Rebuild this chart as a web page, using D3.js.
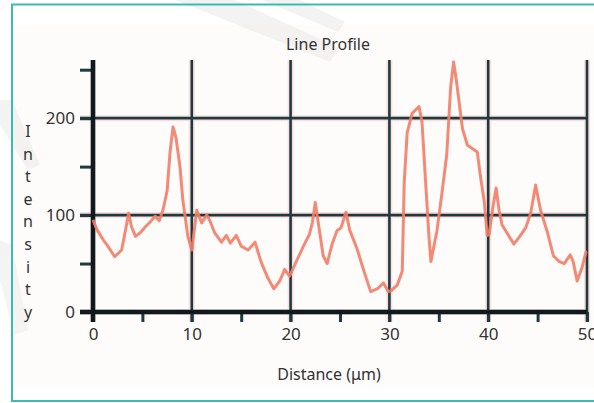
<!DOCTYPE html>
<html>
<head>
<meta charset="utf-8">
<script src="https://cdn.jsdelivr.net/npm/d3@7/dist/d3.min.js"></script>
<style>
  html, body { margin: 0; padding: 0; background: #ffffff; }
  svg { display: block; }
  text { font-family: "Noto Sans", "Open Sans", sans-serif; fill: #333; }
</style>
</head>
<body>
<svg id="chart" width="594" height="403"></svg>
<script>
// ---- data ----
const title = "Line Profile";
const xLabel = "Distance (μm)";
const yLabel = "Intensity";
const distance = [0, 0.4, 1.0, 1.5, 2.2, 2.9, 3.3, 3.6, 3.9, 4.3, 4.8, 5.3, 5.8, 6.3, 6.7, 7.1, 7.5, 7.8, 8.1, 8.4, 8.8, 9.1, 9.6, 10.0,
  10.2, 10.5, 11.0, 11.5, 11.8, 12.3, 13.0, 13.5, 13.9, 14.5, 15.0, 15.7, 16.4, 17.0, 17.7, 18.3, 18.9, 19.4, 19.9,
  20.4, 20.8, 21.4, 21.9, 22.2, 22.5, 22.8, 23.3, 23.7, 24.2, 24.7, 25.1, 25.6, 26.0, 26.7, 27.4, 28.1, 28.8, 29.4, 29.9,
  30.2, 30.8, 31.3, 31.5, 31.8, 32.3, 33.0, 33.3, 33.6, 34.0, 34.2, 34.8, 35.3, 35.8, 36.2, 36.5, 36.8, 37.4, 37.9, 38.5, 38.9, 39.2, 39.6, 39.9,
  40.1, 40.5, 40.8, 41.1, 41.4, 42.0, 42.6, 43.2, 43.8, 44.3, 44.8, 45.3, 46.0, 46.6, 47.2, 47.7, 48.3, 48.6, 49.0, 49.5, 49.9, 50.0];
const intensity = [95, 85, 75, 68, 57, 64, 85, 102, 88, 78, 82, 88, 93, 99, 94, 106, 125, 165, 191, 180, 150, 115, 78, 64,
  80, 105, 92, 100, 95, 82, 72, 79, 71, 79, 68, 64, 72, 52, 35, 24, 32, 44, 37,
  48, 57, 70, 80, 92, 113, 92, 58, 50, 70, 84, 87, 103, 84, 66, 43, 21, 24, 30, 21,
  22, 28, 42, 134, 185, 205, 212, 196, 145, 78, 52, 83, 121, 162, 232, 258, 237, 189, 172, 168, 165, 141, 114, 79,
  80, 110, 128, 105, 90, 80, 70, 78, 87, 102, 131, 105, 82, 58, 52, 50, 59, 52, 32, 46, 62, 62];
const xMajorTicks = [0, 10, 20, 30, 40, 50];
const xMinorTicks = [5, 15, 25, 35, 45];
const yMajorTicks = [0, 100, 200];
const yMinorTicks = [50, 150, 250];
const xDomain = [0, 50];
const yDomain = [0, 260];

// ---- drawing ----
const svg = d3.select("#chart");
const x = d3.scaleLinear().domain(xDomain).range([93, 587]);
const y = d3.scaleLinear().domain(yDomain).range([312, 60]);

const defs = svg.append("defs");
defs.append("filter").attr("id", "soft").append("feGaussianBlur").attr("stdDeviation", 0.45);

// panel
svg.append("rect").attr("x", 13).attr("y", 25).attr("width", 590).attr("height", 362).attr("fill", "#fefcfb");
// faint watermark bands
const wm = svg.append("g").attr("fill", "#ececec").attr("opacity", 0.6);
wm.append("path").attr("d", "M175,0 L235,0 L340,48 L330,62 Z");
wm.append("path").attr("d", "M262,0 L300,0 L345,22 L338,32 Z");
wm.append("path").attr("d", "M0,100 L12,100 L40,165 L28,170 L0,125 Z");
wm.append("path").attr("d", "M0,240 L12,245 L28,330 L14,335 L0,280 Z");
svg.append("rect").attr("x", 12).attr("y", 4.5).attr("width", 600).attr("height", 396.5)
  .attr("fill", "none").attr("stroke", "#3dbab2").attr("stroke-width", 2);

const gridColor = "#1d3a44";
const halo = "#f4a08c";

// orange halos (print misregistration)
const gh = svg.append("g").attr("stroke", halo).attr("stroke-width", 6).attr("opacity", 0.3);
xMajorTicks.forEach(t => gh.append("line").attr("x1", x(t)).attr("x2", x(t)).attr("y1", y(260)).attr("y2", 322));
yMajorTicks.forEach(t => gh.append("line").attr("x1", 80).attr("x2", x(50)).attr("y1", y(t)).attr("y2", y(t)));

// grid
const g = svg.append("g");
xMajorTicks.filter(t => t !== 0).forEach(t =>
  g.append("line").attr("x1", x(t)).attr("x2", x(t)).attr("y1", y(260)).attr("y2", 322)
    .attr("stroke", gridColor).attr("stroke-width", 2.6));
yMajorTicks.filter(t => t !== 0).forEach(t =>
  g.append("line").attr("x1", 80).attr("x2", x(50)).attr("y1", y(t)).attr("y2", y(t))
    .attr("stroke", gridColor).attr("stroke-width", 2.6));

// axes with d3 axis generators
const yAxis = d3.axisLeft(y).tickValues(yMajorTicks.concat(yMinorTicks)).tickSize(13).tickPadding(5)
  .tickFormat(d => yMajorTicks.includes(d) ? d : "");
const yG = svg.append("g").attr("transform", `translate(${x(0)},0)`).call(yAxis);
yG.select(".domain").remove();
yG.selectAll(".tick line").attr("stroke", gridColor).attr("stroke-width", 3);
yG.selectAll(".tick text").style("font-family", "'Noto Sans', sans-serif").style("font-size", "17px").attr("fill", "#333");

const xAxis = d3.axisBottom(x).tickValues(xMajorTicks.concat(xMinorTicks)).tickSize(10).tickPadding(6)
  .tickFormat(d => xMajorTicks.includes(d) ? d : "");
const xG = svg.append("g").attr("transform", `translate(0,${y(0)})`).call(xAxis);
xG.select(".domain").remove();
xG.selectAll(".tick line").attr("stroke", gridColor).attr("stroke-width", 3);
xG.selectAll(".tick text").style("font-family", "'Noto Sans', sans-serif").style("font-size", "17px").attr("fill", "#333");

// main axis lines
svg.append("line").attr("x1", x(0)).attr("x2", x(0)).attr("y1", y(260)).attr("y2", 322)
  .attr("stroke", "#0d1a1f").attr("stroke-width", 4.5);
svg.append("line").attr("x1", 80).attr("x2", x(50)).attr("y1", y(0)).attr("y2", y(0))
  .attr("stroke", "#0d1a1f").attr("stroke-width", 4.5);

// data line
const pts = distance.map((d, i) => [d, intensity[i]]);
const line = d3.line().x(d => x(d[0])).y(d => y(d[1]));
svg.append("path").datum(pts).attr("d", line).attr("fill", "none")
  .attr("stroke", "#f27e67").attr("stroke-width", 3).attr("stroke-linejoin", "round")
  .attr("opacity", 0.9).attr("filter", "url(#soft)");

// labels
svg.append("text").attr("x", 328).attr("y", 50).attr("text-anchor", "middle")
  .style("font-size", "16px").text(title);
svg.append("text").attr("x", 329).attr("y", 380).attr("text-anchor", "middle")
  .style("font-size", "16px").text(xLabel);
const yl = svg.append("text").attr("text-anchor", "middle").style("font-size", "16px");
yLabel.split("").forEach((c, i) => {
  yl.append("tspan").attr("x", 28).attr("y", 137 + i * 22.6).text(c);
});
</script>
</body>
</html>
